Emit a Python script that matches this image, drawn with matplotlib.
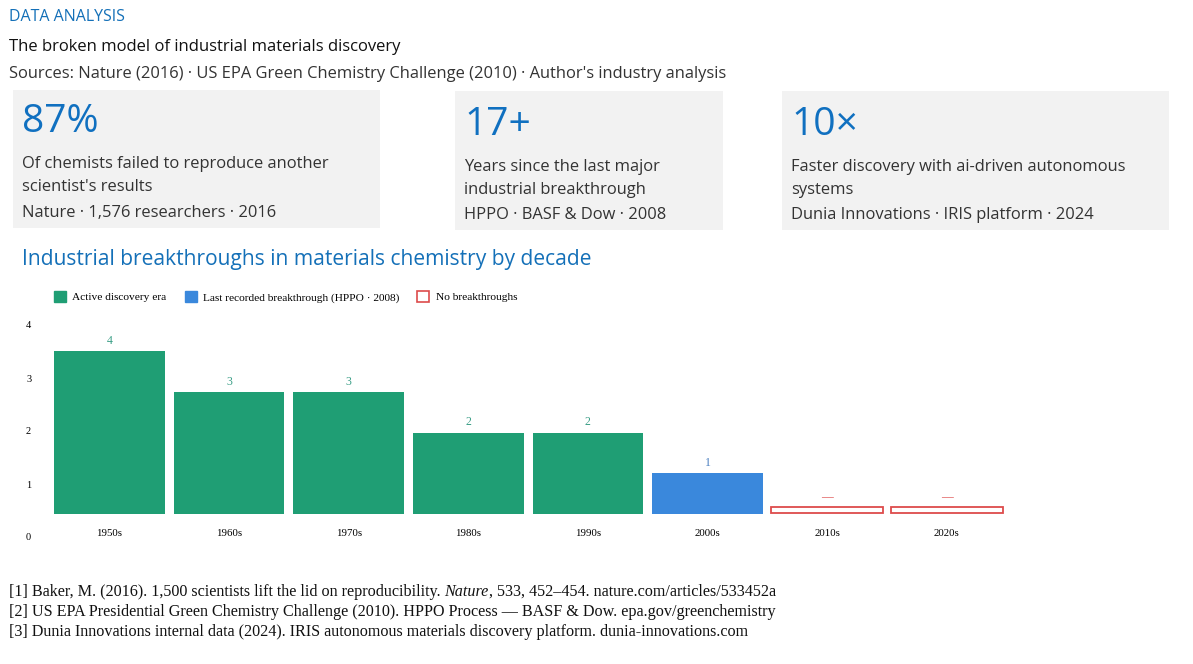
import matplotlib
matplotlib.use("Agg")
import matplotlib.pyplot as plt
from matplotlib.patches import Rectangle, Patch

W, H = 1193, 664
decades = ["1950s", "1960s", "1970s", "1980s", "1990s", "2000s", "2010s", "2020s"]
breakthroughs = [4, 3, 3, 2, 2, 1, 0, 0]
categories = ["active", "active", "active", "active", "active", "last", "none", "none"]
value_labels = ["4", "3", "3", "2", "2", "1", "—", "—"]
ytick_values = [0, 1, 2, 3, 4]

kpi_values = ["87%", "17+", "10×"]
kpi_desc = [["Of chemists failed to reproduce another", "scientist's results"],
            ["Years since the last major", "industrial breakthrough"],
            ["Faster discovery with ai-driven autonomous", "systems"]]
kpi_src = ["Nature · 1,576 researchers · 2016",
           "HPPO · BASF & Dow · 2008",
           "Dunia Innovations · IRIS platform · 2024"]

footnotes = [
    ("[1] Baker, M. (2016). 1,500 scientists lift the lid on reproducibility. ", "Nature",
     ", 533, 452–454. nature.com/articles/533452a"),
    ("[2] US EPA Presidential Green Chemistry Challenge (2010). HPPO Process — BASF & Dow. epa.gov/greenchemistry", "", ""),
    ("[3] Dunia Innovations internal data (2024). IRIS autonomous materials discovery platform. dunia-innovations.com", "", ""),
]

GREEN = "#1f9e74"
BLUE = "#3a88dc"
RED = "#dd4b4b"
TITLE_BLUE = "#1470b8"
SANS = ["Open Sans", "DejaVu Sans"]
SERIF = ["Liberation Serif", "DejaVu Serif"]

fig = plt.figure(figsize=(W / 100, H / 100), dpi=100)
fig.patch.set_facecolor("white")


def fx(x):
    return x / W


def fy(y):
    return 1 - y / H


# Header
fig.text(fx(9), fy(17), "DATA ANALYSIS", color=TITLE_BLUE, fontsize=11.5, family=SANS, va="center")
fig.text(fx(9), fy(47), "The broken model of industrial materials discovery", color="#111111",
         fontsize=12, family=SANS, va="center")
fig.text(fx(9), fy(74), "Sources: Nature (2016) · US EPA Green Chemistry Challenge (2010) · Author's industry analysis",
         color="#333333", fontsize=11.9, family=SANS, va="center")

# KPI cards
cards = [(13, 90, 380, 228, 118, 162, 211), (455, 91, 723, 230, 121, 165, 213), (782, 91, 1169, 230, 121, 165, 213)]
for i, (x0, y0, x1, y1, ybig, ydesc, ysrc) in enumerate(cards):
    fig.add_artist(Rectangle((fx(x0), fy(y1)), fx(x1 - x0), (y1 - y0) / H, transform=fig.transFigure,
                             facecolor="#f2f2f2", edgecolor="none", zorder=0))
    fig.text(fx(x0 + 9), fy(ybig + 4), kpi_values[i], color="#1070c0", fontsize=28, family=SANS, va="center")
    for j, line in enumerate(kpi_desc[i]):
        fig.text(fx(x0 + 9), fy(ydesc + 2 + 23 * j), line, color="#333333", fontsize=11.9, family=SANS,
                 va="center")
    fig.text(fx(x0 + 9), fy(ysrc + 2), kpi_src[i], color="#333333", fontsize=11.9, family=SANS, va="center")

# Chart title
fig.text(fx(22), fy(259), "Industrial breakthroughs in materials chemistry by decade", color=TITLE_BLUE,
         fontsize=15.1, family=SANS, va="center")

# Main bar axes
x_left, x_right = 49.7, 1006.5
y_base, unit = 514, 40.75
ymax = 4.4
ax = fig.add_axes([fx(x_left), fy(y_base), fx(x_right - x_left), ymax * unit / H])
ax.set_xlim(-0.5, len(decades) - 0.5)
ax.set_ylim(0, ymax)
for s in ax.spines.values():
    s.set_visible(False)
ax.set_yticks([])
ax.set_xticks(range(len(decades)))
ax.set_xticklabels(decades, fontsize=7.8, family=SERIF)
ax.tick_params(axis="x", length=0, pad=10.5)
ax.patch.set_alpha(0)

color_map = {"active": GREEN, "last": BLUE}
label_color = {"active": "#3a9e86", "last": "#4a7fc0", "none": RED}
for i, (v, c) in enumerate(zip(breakthroughs, categories)):
    if c == "none":
        h = 0.15
        ax.bar(i, h, width=0.935, bottom=0.02, facecolor="white", edgecolor=RED, linewidth=1.3)
        top = h + 0.02
    else:
        ax.bar(i, v, width=0.925, color=color_map[c], linewidth=0)
        top = v
    ax.text(i, top + 0.25, value_labels[i], ha="center", va="center", fontsize=8.5, family=SERIF,
            color=label_color[c])

# Y tick labels on a separate scale
ay = fig.add_axes([fx(36), fy(537), 0.001, (537 - 325) / H])
ay.set_ylim(0, 4)
ay.set_yticks(ytick_values)
ay.set_yticklabels([str(t) for t in ytick_values], fontsize=7.5, family=SERIF)
ay.tick_params(axis="y", length=0, pad=3.5)
ay.set_xticks([])
for s in ay.spines.values():
    s.set_visible(False)
ay.patch.set_alpha(0)

# Legend
handles = [Patch(facecolor=GREEN, edgecolor=GREEN, label="Active discovery era"),
           Patch(facecolor=BLUE, edgecolor=BLUE, label="Last recorded breakthrough (HPPO · 2008)"),
           Patch(facecolor="white", edgecolor=RED, linewidth=1.2, label="No breakthroughs")]
fig.legend(handles=handles, loc="center left", bbox_to_anchor=(fx(54), fy(297)), ncol=3, frameon=False,
           prop={"family": SERIF, "size": 8.2}, handlelength=1.05, handleheight=1.05, handletextpad=0.55,
           columnspacing=1.6, borderaxespad=0, borderpad=0)

# Footnotes
for k, (a, it, b) in enumerate(footnotes):
    y = fy(592 + 20 * k)
    t = fig.text(fx(9), y, a, fontsize=11.6, family=SERIF, va="center", color="#111111")
    if it:
        fig.canvas.draw()
        r = fig.canvas.get_renderer()
        bb = t.get_window_extent(r)
        t2 = fig.text(bb.x1 / W, y, it, fontsize=11.6, family=SERIF, style="italic", va="center", color="#111111")
        bb2 = t2.get_window_extent(r)
        fig.text(bb2.x1 / W, y, b, fontsize=11.6, family=SERIF, va="center", color="#111111")

fig.savefig("out.png", dpi=100)
